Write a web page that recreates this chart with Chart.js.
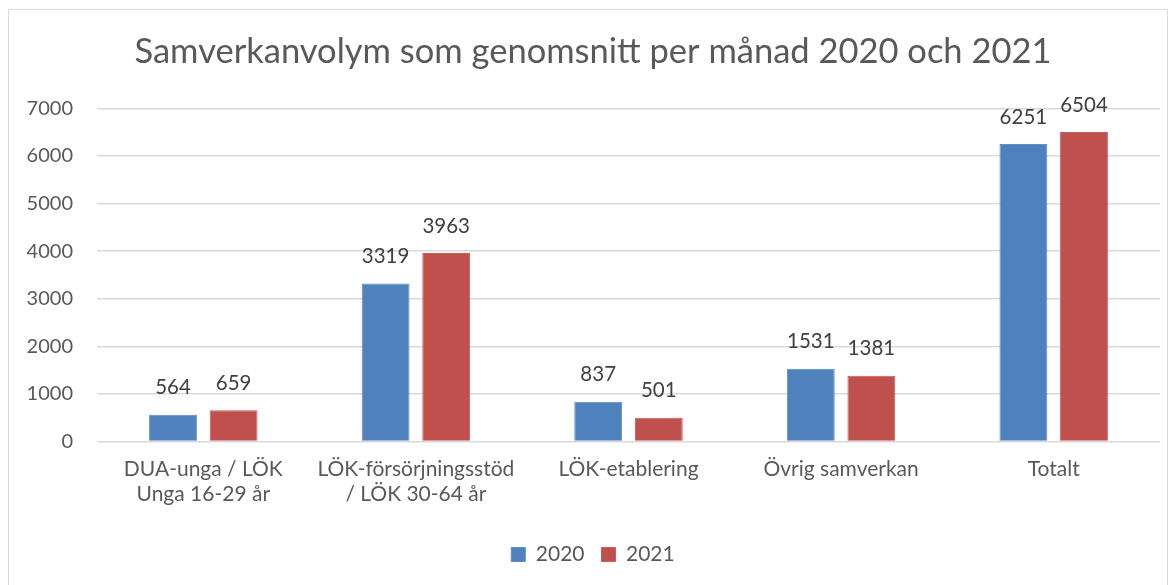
<!DOCTYPE html>
<html>
<head>
<meta charset="utf-8">
<script src="https://cdn.jsdelivr.net/npm/chart.js@4.4.1/dist/chart.umd.min.js"></script>
<style>
  html, body { margin: 0; padding: 0; background: #fff; }
  #frame {
    position: absolute; left: 8px; top: 9px;
    width: 1160px; height: 590px;
    border: 1px solid #d9d9d9; box-sizing: border-box;
  }
  canvas { display: block; }
</style>
</head>
<body>
<div id="frame"><canvas id="chart" width="1158" height="588"></canvas></div>
<script>
const categories = [
  ['DUA-unga / LÖK', 'Unga 16-29 år'],
  ['LÖK-försörjningsstöd', '/ LÖK 30-64 år'],
  'LÖK-etablering',
  'Övrig samverkan',
  'Totalt'
];
const values2020 = [564, 3319, 837, 1531, 6251];
const values2021 = [659, 3963, 501, 1381, 6504];
const yTicks = [0, 1000, 2000, 3000, 4000, 5000, 6000, 7000];

const FONT = 'Lato, "Open Sans", sans-serif';

// simple data labels above each bar
const barLabels = {
  id: 'barLabels',
  afterDatasetsDraw(chart) {
    const ctx = chart.ctx;
    ctx.save();
    ctx.font = '20.5px ' + FONT;
    ctx.fillStyle = '#404040';
    ctx.textAlign = 'center';
    ctx.textBaseline = 'middle';
    chart.data.datasets.forEach((ds, i) => {
      chart.getDatasetMeta(i).data.forEach((bar, j) => {
        ctx.fillText(ds.data[j], bar.x, bar.y - 27);
      });
    });
    ctx.restore();
  }
};

new Chart(document.getElementById('chart'), {
  type: 'bar',
  data: {
    labels: categories,
    datasets: [
      { label: '2020', data: values2020, backgroundColor: '#4f81bd', borderColor: '#5b8cc6', borderWidth: 1 },
      { label: '2021', data: values2021, backgroundColor: '#c0504d', borderColor: '#c95d5a', borderWidth: 1 }
    ]
  },
  options: {
    responsive: false,
    animation: false,
    categoryPercentage: 0.57,
    barPercentage: 0.79,
    layout: { padding: { left: 17, right: 7, top: 10, bottom: 23 } },
    plugins: {
      title: {
        display: true,
        text: 'Samverkanvolym som genomsnitt per månad 2020 och 2021',
        color: '#595959',
        font: { family: FONT, size: 34.5, weight: 'normal' },
        padding: { top: 11, bottom: 36 }
      },
      legend: {
        position: 'bottom',
        labels: {
          color: '#595959',
          font: { family: FONT, size: 21 },
          boxWidth: 14,
          boxHeight: 14,
          padding: 17
        }
      },
      tooltip: { enabled: false }
    },
    scales: {
      x: {
        afterFit: axis => { axis.height += 13; },
        grid: { display: false },
        border: { display: false },
        ticks: {
          color: '#595959',
          font: { family: FONT, size: 21 },
          padding: 7,
          maxRotation: 0
        }
      },
      y: {
        min: 0,
        max: 7000,
        afterBuildTicks: axis => { axis.ticks = yTicks.map(v => ({ value: v })); },
        afterFit: axis => { axis.width = 71; },
        grid: { color: '#d9d9d9', lineWidth: 1.5, drawTicks: false },
        border: { display: false },
        ticks: {
          color: '#595959',
          font: { family: FONT, size: 20 },
          padding: 24,
          callback: v => String(v)
        }
      }
    }
  },
  plugins: [barLabels]
});
</script>
</body>
</html>
